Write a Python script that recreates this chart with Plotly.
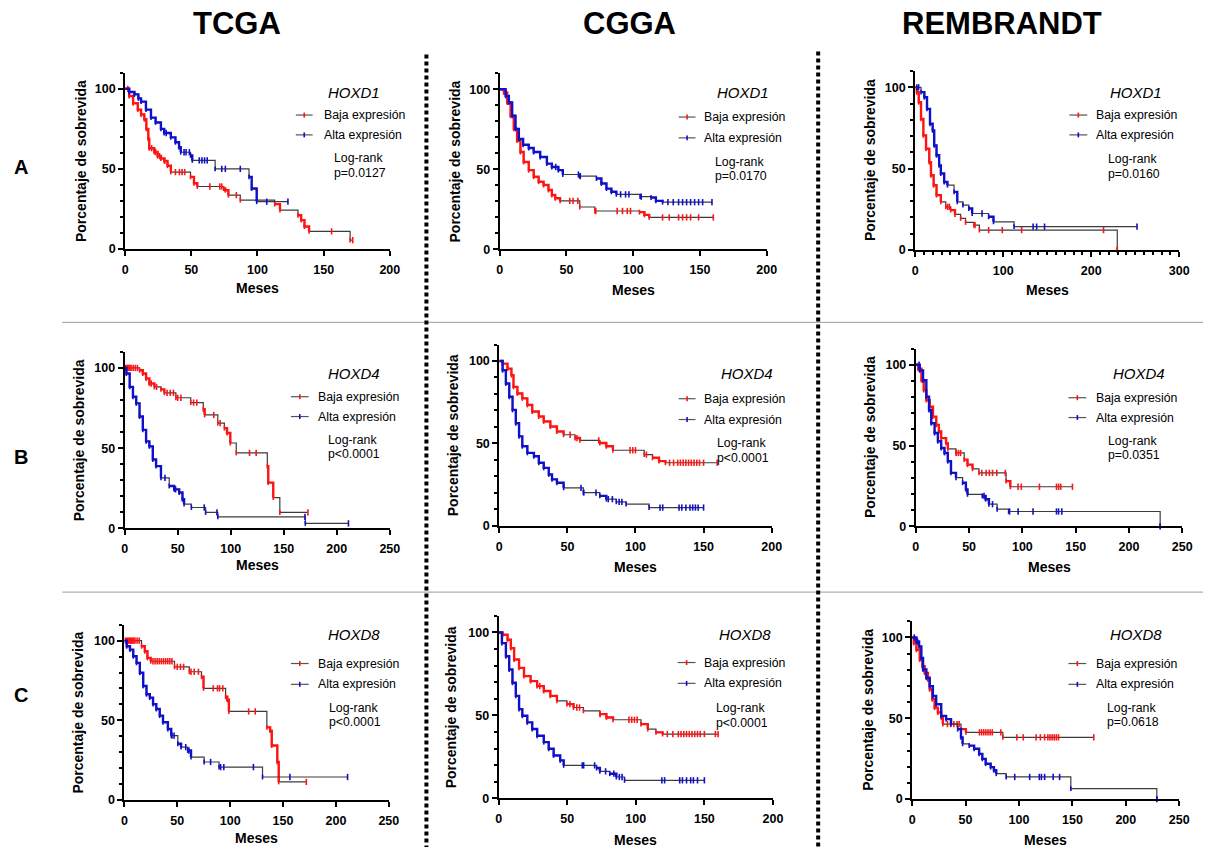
import plotly.graph_objects as go

W, H = 1213, 854
RED = "#ff1414"
BLUE = "#1010c8"
STEP = "#3c3c3c"
FONT = "Liberation Sans, Arial, sans-serif"

DATASETS = ["TCGA", "CGGA", "REMBRANDT"]
GENES = ["HOXD1", "HOXD4", "HOXD8"]
ROW_LABELS = ["A", "B", "C"]
PVALUES = [["p=0.0127", "p=0.0170", "p=0.0160"],
           ["p<0.0001", "p<0.0001", "p=0.0351"],
           ["p<0.0001", "p<0.0001", "p=0.0618"]]
X_MAX = [[200, 200, 300], [250, 200, 250], [250, 200, 250]]
GROUPS = ["Baja expresión", "Alta expresión"]

# ---------------- TCGA / HOXD1 ----------------
TCGA_D1_BAJA_T = [0, 3, 6, 9.5, 12, 14.5, 16, 17.5, 18.2, 22, 24.5, 27, 29.5, 32, 34.5, 49.4, 52, 54.5,
                  74.4, 75.6, 78, 87, 113, 117, 130.6, 133, 135.5, 139, 170]
TCGA_D1_BAJA_S = [100, 95.5, 91, 87, 84, 81, 75, 68.7, 62.9, 60.5, 58, 56.5, 55, 52, 48, 45, 41, 39,
                  37.7, 36.7, 33.6, 30.5, 28, 24.3, 21, 18, 14, 11, 5.5]
TCGA_D1_BAJA_C = [2, 20, 23, 26, 30, 38, 41, 43, 45, 64, 71.5, 73, 84, 156, 172]
TCGA_D1_ALTA_T = [0, 3, 7, 10, 12, 15.7, 19.5, 23, 27, 29.5, 34.5, 38, 40.7, 42, 49.4, 50.7, 68, 93.6, 95.6, 99.4]
TCGA_D1_ALTA_S = [100, 98, 96.5, 94, 92, 87, 82, 79, 75, 72.4, 69.7, 66.6, 63.5, 60.4, 58.4, 55.3, 50, 45, 37.7, 29.5]
TCGA_D1_ALTA_C = [31, 44.5, 46, 48.5, 56, 58, 60, 62, 73, 75.7, 87, 107, 123]

# ---------------- CGGA / HOXD1 ----------------
CGGA_D1_BAJA_T = [0, 3.2, 5.7, 8.2, 10.6, 13.1, 15.6, 18, 21.8, 25.5, 29.2, 32.9, 36.6, 39.1, 41.6, 45.3,
                  60, 71.3, 104.7, 108.4, 112]
CGGA_D1_BAJA_S = [100, 98, 91.8, 83.5, 75.3, 68, 60.8, 54.6, 49.5, 45.4, 42.3, 40.2, 37.1, 34, 32, 30.3,
                  26.5, 24, 23.3, 21.6, 20]
CGGA_D1_BAJA_C = [52.5, 55, 58.6, 72, 88, 92, 95.6, 98, 122, 127, 134, 137, 140, 143, 149, 160]
CGGA_D1_ALTA_T = [0, 4.5, 6.9, 9.4, 11.9, 14.4, 17.6, 21.8, 25.5, 30.4, 35.4, 39.1, 44, 47.3, 60, 72.5,
                  76.2, 80, 83.7, 87.4, 105.2, 113.4, 117, 122]
CGGA_D1_ALTA_S = [100, 95.9, 91.8, 83.5, 75.3, 69, 65.4, 63.3, 60.8, 57.7, 53.6, 51.5, 49.5, 46.8, 45.8, 44.3,
                  41.2, 38, 36, 34.4, 33, 32.4, 30.3, 29.5]
CGGA_D1_ALTA_C = [42, 59, 60.4, 90.6, 94.3, 96.8, 106, 126, 130, 134, 137, 140, 143, 146, 149, 152, 159]

# ---------------- REMBRANDT / HOXD1 ----------------
REMB_D1_BAJA_T = [0, 1.9, 4.1, 6.7, 9.4, 12.4, 16.1, 18, 21, 24.3, 29.2, 34.8, 40.4, 45.3, 51.7, 57.3, 66.7, 73, 229.6]
REMB_D1_BAJA_S = [100, 96.9, 90.8, 80.6, 70.4, 62.2, 54, 45.9, 39.8, 33.7, 29.6, 26.5, 24.5, 21.8, 19.4, 16.9, 15.3, 12.2, 0]
REMB_D1_BAJA_C = [37, 39, 68, 83.5, 99, 121, 214, 229.6]
REMB_D1_ALTA_T = [0, 6.7, 10.5, 13.5, 16.9, 19.9, 21.7, 24.3, 27.3, 29.2, 33, 36.7, 44.2, 47.9, 54.3, 61, 64.8,
                  83.5, 89, 112.4]
REMB_D1_ALTA_S = [100, 97, 93.9, 86.7, 77.6, 73.5, 64.3, 58.2, 52, 47, 41.8, 39.8, 35.7, 29.6, 27.6, 25.5, 22.4,
                  20.4, 17.3, 14.3]
REMB_D1_ALTA_C = [2, 4, 76, 134, 138, 147, 252]

# ---------------- TCGA / HOXD4 ----------------
TCGA_D4_BAJA_T = [0, 14, 17.1, 20.2, 23.3, 28, 34.2, 37.4, 48.3, 62.3, 74.1, 75.4, 87.8, 94, 96.5, 99.6, 105.2,
                  134.5, 135.4, 140.1, 146.3]
TCGA_D4_BAJA_S = [100, 98.6, 96.5, 93.4, 90.3, 88.2, 86.6, 84.5, 81.4, 78.4, 74.2, 70.7, 65.6, 62.5, 59.4, 53.2, 47,
                  38.8, 28.5, 19.2, 9.9]
TCGA_D4_BAJA_C = [1, 2, 3, 4, 5, 6, 8, 10, 12, 25, 30, 40, 43, 46, 50, 53, 65, 68, 84, 90, 117.7, 124, 172.8]
TCGA_D4_ALTA_T = [0, 1.6, 4.7, 7.8, 10.9, 14, 17.1, 20.2, 23.3, 26.5, 29.6, 34.2, 42, 46.7, 51.4, 54.5, 56, 62.9,
                  76.3, 87.8, 170.3]
TCGA_D4_ALTA_S = [100, 96.5, 88.2, 82, 77.9, 69.7, 61.4, 54.2, 51.1, 42.9, 38.8, 31.5, 26.4, 24.3, 22.3, 18.1, 15.1, 13,
                  9.9, 7.2, 3.1]
TCGA_D4_ALTA_C = [38, 48, 75, 87, 170, 211]

# ---------------- CGGA / HOXD4 ----------------
CGGA_D4_BAJA_T = [0, 2.4, 6, 8.9, 10.4, 13.3, 16.9, 20.6, 24.2, 29, 32.6, 37.5, 42.3, 47.2, 55.6, 59.2, 73.8, 78.6,
                  83.4, 106.4, 112.5, 117.3, 122]
CGGA_D4_BAJA_S = [100, 98.4, 95.4, 91.4, 84.3, 80.3, 77.3, 73.3, 69.3, 66.3, 63.3, 60.2, 57.2, 55.2, 53.2, 51.8, 50.2,
                  48.2, 45.8, 43.2, 41.2, 39.2, 38.2]
CGGA_D4_BAJA_C = [52, 57, 73, 96, 98, 100, 108, 125, 128, 131, 133, 135, 137, 139, 141, 143, 145, 147, 150, 160]
CGGA_D4_ALTA_T = [0, 2.4, 4.8, 7.3, 9.7, 12.1, 14.5, 16.9, 20.6, 25.4, 29, 32.6, 36.3, 38.7, 42.3, 47.2, 61.7, 73.8,
                  78.6, 85.9, 93.1, 110]
CGGA_D4_ALTA_S = [100, 94.4, 86.3, 78.3, 70.3, 62.2, 54.2, 48.2, 44.2, 42.2, 38.2, 35.1, 31.1, 28.1, 26.1, 23, 20.1,
                  18.1, 16.1, 14.5, 13.1, 11]
CGGA_D4_ALTA_C = [60, 62, 71, 80, 83, 88, 90, 118, 120, 132, 134, 137, 140, 142, 144, 146, 150]

# ---------------- REMBRANDT / HOXD4 ----------------
REMB_D4_BAJA_T = [0, 2.2, 5.3, 7.4, 9.9, 13, 16.1, 19.2, 21.6, 23.8, 28.4, 30, 37.7, 45.4, 48.5, 53.2, 59.3, 84.7, 88.7]
REMB_D4_BAJA_S = [100, 97.5, 90.4, 84.3, 78.1, 74, 67.9, 62.8, 58.7, 54.6, 51.5, 47.9, 45.4, 41.3, 38.2, 35.6, 33.1, 28,
                  24.5]
REMB_D4_BAJA_C = [38, 40, 42, 62, 66, 69, 72, 76, 84, 96, 99, 116, 132, 134, 136, 147]
REMB_D4_ALTA_T = [0, 3.7, 6.8, 9.9, 12.4, 14.5, 17.6, 20.7, 23.8, 26.9, 30, 33, 37.7, 43.9, 47, 48.5, 62.4, 65.5,
                  68.6, 76.3, 87.1, 229.3]
REMB_D4_ALTA_S = [100, 96.5, 90.4, 80.2, 72, 63.8, 57.7, 52.6, 48.5, 45.4, 40.3, 33.1, 30.1, 27, 22.9, 19.8, 18.8, 16.8,
                  13.7, 10.6, 9.2, 0]
REMB_D4_ALTA_C = [3, 64, 72, 88, 96, 110, 132, 134, 137, 229.3]

# ---------------- TCGA / HOXD8 ----------------
TCGA_D8_BAJA_T = [0, 16.2, 19.3, 21.8, 24.9, 47.4, 61.4, 72.9, 74.8, 95.7, 97.3, 98.8, 134.7, 137.8, 139.3, 144.6, 145.9]
TCGA_D8_BAJA_S = [100, 96.5, 93.4, 89.2, 87.1, 83.6, 80.5, 77.4, 70.1, 64.9, 62.9, 55.6, 45.6, 43.6, 34.2, 23.9, 11.4]
TCGA_D8_BAJA_C = [1, 2, 3, 4, 5, 6, 7, 8, 9, 10, 12, 14, 27, 29, 31, 33, 35, 37, 39, 41, 43, 45, 50, 53, 56, 63, 66,
                  70, 84, 88, 90, 93, 117.5, 123.7, 172]
TCGA_D8_ALTA_T = [0, 2.2, 5.3, 8.4, 11.5, 14.6, 17.8, 20.9, 24, 27.1, 30.2, 33.4, 36.5, 41.1, 44.3, 50.5, 53.6, 59.9,
                  63, 75.4, 89.5, 130.6]
TCGA_D8_ALTA_S = [100, 96.5, 94.4, 90.2, 86.1, 79.9, 71.6, 66.4, 64.3, 60.2, 57.1, 53, 48.8, 44.6, 40.5, 35.3, 33.2,
                  31.1, 27, 23.9, 20.7, 14.5]
TCGA_D8_ALTA_C = [45, 47, 58, 61, 81.5, 91, 94, 122, 156.5, 211]

# ---------------- CGGA / HOXD8 ----------------
CGGA_D8_BAJA_T = [0, 2.9, 6.5, 8.9, 11.3, 14.9, 18.5, 23.3, 28.1, 32.9, 37.7, 42.5, 49.8, 54.6, 61.8, 73.8, 78.6,
                  83.4, 103.8, 108.7, 114.7, 119.5]
CGGA_D8_BAJA_S = [100, 98.6, 95.6, 90.6, 83.7, 78.7, 73.7, 70.7, 67.7, 64.7, 61.8, 58.8, 56.8, 54.8, 52.8, 50.8, 48.8,
                  47.4, 44.8, 41.8, 39.8, 38.8]
CGGA_D8_BAJA_C = [30, 52, 57, 59, 74, 95, 97, 99, 101, 123, 127, 131, 133, 135, 137, 139, 141, 143, 145, 147, 150,
                  158, 160]
CGGA_D8_ALTA_T = [0, 2.4, 5.3, 7.7, 10.1, 12.5, 14.9, 17.3, 20.9, 24.5, 28.1, 32.9, 36.5, 40.1, 44.9, 47.4, 71.4,
                  73.8, 81, 85.8, 91.8]
CGGA_D8_ALTA_S = [100, 93.6, 85.7, 77.7, 69.7, 61.8, 53.8, 49.8, 45.8, 41.8, 37.8, 33.9, 29.9, 25.9, 22.9, 19.9, 18.3,
                  16.3, 14.9, 12.9, 10.9]
CGGA_D8_ALTA_C = [61, 62, 70, 78, 84, 88, 90, 119, 121, 132, 134, 137, 140, 142, 145, 150]

# ---------------- REMBRANDT / HOXD8 ----------------
REMB_D8_BAJA_T = [0, 1.5, 4, 7.1, 9.6, 11.7, 14.8, 16.4, 18.8, 21, 24.1, 27.2, 28.7, 45.7, 50.3, 84.9]
REMB_D8_BAJA_S = [100, 96.5, 92.4, 86.3, 82.2, 78.1, 74, 67.9, 61.8, 56.6, 53.6, 50.5, 46.4, 43.3, 41.3, 38.2]
REMB_D8_BAJA_C = [33, 36, 39, 42, 44, 63, 65, 67, 69, 71, 73, 75, 83, 98, 104, 116, 120, 124, 127, 129, 131, 133,
                  135, 137, 170]
REMB_D8_ALTA_T = [0, 4, 6.5, 8.6, 10.2, 13.3, 16.4, 19.4, 22.5, 27.2, 31.8, 36.4, 42.6, 45.7, 47.2, 53.4, 58, 62.7,
                  65.7, 68.8, 73.5, 76.5, 78.7, 88, 148.5, 229]
REMB_D8_ALTA_S = [100, 97.5, 94.5, 87.3, 80.2, 75.1, 69.9, 63.8, 58.7, 51.5, 49.5, 46.4, 43.3, 38.2, 34.2, 33.1, 31.1,
                  28, 24.9, 21.9, 19.8, 17.8, 15.7, 13.7, 6.5, 0]
REMB_D8_ALTA_C = [2, 5, 96, 110, 119, 121, 124, 132, 138, 229]

CURVES = [
    [((TCGA_D1_BAJA_T, TCGA_D1_BAJA_S, TCGA_D1_BAJA_C), (TCGA_D1_ALTA_T, TCGA_D1_ALTA_S, TCGA_D1_ALTA_C)),
     ((CGGA_D1_BAJA_T, CGGA_D1_BAJA_S, CGGA_D1_BAJA_C), (CGGA_D1_ALTA_T, CGGA_D1_ALTA_S, CGGA_D1_ALTA_C)),
     ((REMB_D1_BAJA_T, REMB_D1_BAJA_S, REMB_D1_BAJA_C), (REMB_D1_ALTA_T, REMB_D1_ALTA_S, REMB_D1_ALTA_C))],
    [((TCGA_D4_BAJA_T, TCGA_D4_BAJA_S, TCGA_D4_BAJA_C), (TCGA_D4_ALTA_T, TCGA_D4_ALTA_S, TCGA_D4_ALTA_C)),
     ((CGGA_D4_BAJA_T, CGGA_D4_BAJA_S, CGGA_D4_BAJA_C), (CGGA_D4_ALTA_T, CGGA_D4_ALTA_S, CGGA_D4_ALTA_C)),
     ((REMB_D4_BAJA_T, REMB_D4_BAJA_S, REMB_D4_BAJA_C), (REMB_D4_ALTA_T, REMB_D4_ALTA_S, REMB_D4_ALTA_C))],
    [((TCGA_D8_BAJA_T, TCGA_D8_BAJA_S, TCGA_D8_BAJA_C), (TCGA_D8_ALTA_T, TCGA_D8_ALTA_S, TCGA_D8_ALTA_C)),
     ((CGGA_D8_BAJA_T, CGGA_D8_BAJA_S, CGGA_D8_BAJA_C), (CGGA_D8_ALTA_T, CGGA_D8_ALTA_S, CGGA_D8_ALTA_C)),
     ((REMB_D8_BAJA_T, REMB_D8_BAJA_S, REMB_D8_BAJA_C), (REMB_D8_ALTA_T, REMB_D8_ALTA_S, REMB_D8_ALTA_C))],
]

# Plot boxes in pixels: (left, right, top at y=110, bottom at y=0)
BOXES = [
    [(123.5, 391, 73.4, 251), (502, 772, 73.9, 251.5), (922, 1189, 71.6, 252)],
    [(123, 391, 354.8, 532.7), (501.7, 777, 347.4, 530), (922.7, 1192, 351.4, 530.7)],
    [(122.7, 390, 629.9, 806.7), (501, 778.3, 621, 805), (919, 1189, 626.4, 805.7)],
]
# y-title x position, "Meses" y position
YTITLE_X = [[79, 457, 877], [77, 455, 877], [76, 453, 875]]
MESES_Y = [[290, 292, 292], [570, 572, 572], [845, 847, 847]]
# legend block anchors: gene centre x, gene y, line x0, line x1, text x, row1 y, row2 y, logrank x, logrank y, p y
LEGENDS = [
    [(355, 93, 296, 313, 322, 116, 136, 333, 159, 174),
     (748, 93, 683, 700, 707, 118, 139, 718, 163, 177),
     (1145, 93, 1078, 1096, 1103, 116, 136, 1115, 160, 175)],
    [(355, 377, 291, 309, 316, 400, 420, 327, 444, 458),
     (752, 377, 683, 700, 707, 402, 423, 720, 447, 462),
     (1148, 377, 1077, 1095, 1103, 401, 421, 1115, 445, 459)],
    [(355, 640, 291, 309, 316, 669, 690, 328, 714, 728),
     (750, 640, 682, 700, 707, 668, 689, 719, 714, 729),
     (1145, 640, 1077, 1095, 1103, 669, 690, 1114, 714, 728)],
]
DENSE_GAP = 5.5


def px(x):
    return x / W


def py(y):
    return 1 - y / H


def step_value(t, s, when):
    v = s[0]
    for ti, si in zip(t, s):
        if ti <= when:
            v = si
    return v


def dense_path(t, s):
    xs, ys = [], []
    for i in range(1, len(t)):
        if t[i] - t[i - 1] > DENSE_GAP:
            continue
        seg_x = [t[i - 1], t[i], t[i]]
        seg_y = [s[i - 1], s[i - 1], s[i]]
        if xs and xs[-1] == seg_x[0] and ys[-1] == seg_y[0]:
            xs += seg_x[1:]
            ys += seg_y[1:]
        else:
            if xs:
                xs.append(None)
                ys.append(None)
            xs += seg_x
            ys += seg_y
    return xs, ys


fig = go.Figure()
annotations = []
shapes = []


def text(x, y, s, size, xanchor="center", angle=0, color="black"):
    annotations.append(dict(x=px(x), y=py(y), xref="paper", yref="paper", text=s, showarrow=False,
                            xanchor=xanchor, yanchor="middle", textangle=angle,
                            font=dict(family=FONT, size=size, color=color)))


axis_common = dict(showline=True, linewidth=2, linecolor="black", ticks="outside", ticklen=5, tickwidth=2,
                   tickcolor="black", showgrid=False, zeroline=False, mirror=False,
                   tickfont=dict(family=FONT, size=12.5, color="black", weight="bold"))

k = 0
for r in range(3):
    for c in range(3):
        k += 1
        xa = "x" if k == 1 else f"x{k}"
        ya = "y" if k == 1 else f"y{k}"
        left, right, top, bottom = BOXES[r][c]
        xmax = X_MAX[r][c]
        xaxis = dict(axis_common, domain=[px(left), px(right)], range=[0, xmax], dtick=50, anchor=ya,
                     ticklabelstandoff=3)
        if xmax == 300:
            xaxis["dtick"] = 100
            xaxis["minor"] = dict(dtick=10, ticks="outside", ticklen=3, tickwidth=1.5, tickcolor="black")
        yaxis = dict(axis_common, domain=[py(bottom), py(top)], range=[0, 110], tickvals=[0, 50, 100],
                     anchor=xa, minor=dict(dtick=10, ticks="outside", ticklen=3, tickwidth=1.5, tickcolor="black"))
        fig.update_layout(**{("xaxis" if k == 1 else f"xaxis{k}"): xaxis,
                             ("yaxis" if k == 1 else f"yaxis{k}"): yaxis})

        for (t, s, cens), color in zip(CURVES[r][c], [RED, BLUE]):
            end = max(cens[-1], t[-1])
            fig.add_trace(go.Scatter(x=t + [end], y=s + [s[-1]], mode="lines", line_shape="hv",
                                     line=dict(color=STEP, width=1.2), xaxis=xa, yaxis=ya,
                                     showlegend=False, hoverinfo="skip"))
            dx, dy = dense_path(t, s)
            fig.add_trace(go.Scatter(x=dx, y=dy, mode="lines", line=dict(color=color, width=2.4),
                                     connectgaps=False, xaxis=xa, yaxis=ya, showlegend=False, hoverinfo="skip"))
            fig.add_trace(go.Scatter(x=t[1:], y=s[1:], mode="markers", cliponaxis=False,
                                     marker=dict(symbol="line-ns", size=3.5, line=dict(width=1.6, color=color)),
                                     xaxis=xa, yaxis=ya, showlegend=False, hoverinfo="skip"))
            cy = [step_value(t, s, cc) for cc in cens]
            fig.add_trace(go.Scatter(x=cens, y=cy, mode="markers", cliponaxis=False,
                                     marker=dict(symbol="line-ns", size=4.5, line=dict(width=1.6, color=color)),
                                     xaxis=xa, yaxis=ya, showlegend=False, hoverinfo="skip"))

        # axis titles
        text(YTITLE_X[r][c], (top + bottom) / 2, "<b>Porcentaje de sobrevida</b>", 14, angle=-90)
        text((left + right) / 2, MESES_Y[r][c], "<b>Meses</b>", 14)

        # gene label, legend and statistics
        gx, gy, lx0, lx1, tx, y1, y2, lrx, lry, pyy = LEGENDS[r][c]
        text(gx, gy, f"<i>{GENES[r]}</i>", 15)
        for yy, name, color in [(y1, GROUPS[0], RED), (y2, GROUPS[1], BLUE)]:
            shapes.append(dict(type="line", xref="paper", yref="paper", x0=px(lx0), x1=px(lx1),
                               y0=py(yy), y1=py(yy), line=dict(color="#555555", width=1.2)))
            mid = (lx0 + lx1) / 2
            shapes.append(dict(type="line", xref="paper", yref="paper", x0=px(mid), x1=px(mid),
                               y0=py(yy - 2.5), y1=py(yy + 2.5), line=dict(color=color, width=1.6)))
            text(tx, yy, name, 12.3, xanchor="left")
        text(lrx, lry, "Log-rank", 12.3, xanchor="left")
        text(lrx, pyy, PVALUES[r][c], 12.3, xanchor="left")

# column headers and row letters
for name, cx in zip(DATASETS, [237, 633, 1010]):
    text(cx, 24, f"<b>{name}</b>", 31)
for lab, ry in zip(ROW_LABELS, [168, 461, 701]):
    text(18, ry, f"<b>{lab}</b>", 20)

# panel separators
for yy in [325, 597]:
    shapes.append(dict(type="line", xref="paper", yref="paper", x0=px(60), x1=px(1213), y0=py(yy), y1=py(yy),
                       line=dict(color="#9a9a9a", width=1)))
for xx, y0 in [(428, 55), (824, 52)]:
    shapes.append(dict(type="line", xref="paper", yref="paper", x0=px(xx), x1=px(xx), y0=py(y0), y1=py(854),
                       line=dict(color="black", width=4, dash="4px,3px")))

fig.update_layout(width=W, height=H, margin=dict(l=0, r=0, t=0, b=0), paper_bgcolor="white",
                  plot_bgcolor="white", annotations=annotations, shapes=shapes, showlegend=False,
                  font=dict(family=FONT, color="black"))

fig.write_html("out.html")
